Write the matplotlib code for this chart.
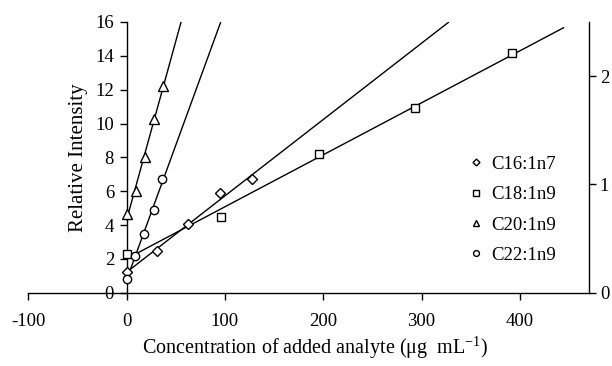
import numpy as np
import matplotlib
matplotlib.use("Agg")
import matplotlib.pyplot as plt

plt.rcParams['font.family'] = ['Liberation Serif', 'DejaVu Serif']
plt.rcParams['mathtext.fontset'] = 'custom'
plt.rcParams['mathtext.rm'] = 'Liberation Serif'

# Standard-addition data: added concentration (µg mL-1) vs relative intensity
c16_x = [0, 31.5, 62.5, 95.5, 127.5]
c16_y = [1.25, 2.45, 4.05, 5.88, 6.73]

c18_x = [0, 96.5, 195.5, 293.5, 391.5]
c18_y = [2.3, 4.5, 8.2, 10.9, 14.15]

c20_x = [0, 9.8, 19.0, 27.8, 36.8]
c20_y = [4.65, 6.0, 8.0, 10.28, 12.2]

c22_x = [0, 8.5, 17.7, 27.8, 35.9]
c22_y = [0.8, 2.15, 3.5, 4.88, 6.7]

series = [
    ("C16:1n7", c16_x, c16_y, "D", 5.0),
    ("C18:1n9", c18_x, c18_y, "s", 6.0),
    ("C20:1n9", c20_x, c20_y, "^", 7.0),
    ("C22:1n9", c22_x, c22_y, "o", 6.0),
]

x_ticks = [-100, 0, 100, 200, 300, 400]
y_ticks = [0, 2, 4, 6, 8, 10, 12, 14, 16]
y2_ticks = [0, 1, 2]

fig = plt.figure(figsize=(6.12, 3.66), dpi=100)
ax = fig.add_axes([0.046, 0.2, 0.916, 0.74])
ax.set_xlim(-100, 470)
ax.set_ylim(0, 16)

x_end = 445
for label, xs, ys, mk, ms in series:
    slope, icpt = np.polyfit(xs, ys, 1)
    xe = min(x_end, (16 - icpt) / slope)
    ax.plot([0, xe], [icpt, icpt + slope * xe], color='black', lw=1.0,
            solid_capstyle='butt', zorder=2)
    ax.plot(xs, ys, linestyle='none', marker=mk, markersize=ms,
            markerfacecolor='white', markeredgecolor='black',
            markeredgewidth=1.0, label=label, zorder=3)

ax.spines['left'].set_position(('data', 0))
ax.spines['top'].set_visible(False)
ax.spines['right'].set_visible(False)
for sp in ax.spines.values():
    sp.set_linewidth(1.0)

ax.set_xticks(x_ticks)
ax.set_xticklabels([str(t) for t in x_ticks])
ax.set_yticks(y_ticks)
ax.tick_params(axis='both', direction='out', length=5, width=1.0,
               labelsize=13.5)
ax.tick_params(axis='x', pad=9.5)
ax.tick_params(axis='y', pad=4)
ax.set_ylabel("Relative Intensity", fontsize=15)
ax.yaxis.set_label_coords(0.106, 0.5)

fig.text(0.514, 0.034,
         r"Concentration of added analyte ($\mathrm{\mu}$g  mL$^{\mathrm{-1}}$)",
         fontsize=14.5, ha='center', va='baseline')

ax2 = ax.twinx()
ax2.set_ylim(0, 2.5)
ax2.set_yticks(y2_ticks)
for name in ['top', 'left', 'bottom']:
    ax2.spines[name].set_visible(False)
ax2.spines['right'].set_linewidth(1.0)
ax2.tick_params(axis='y', direction='out', length=5, width=1.0,
                labelsize=13.5, pad=3)

leg = ax.legend(loc='upper left', bbox_to_anchor=(0.752, 0.569), frameon=False,
                fontsize=13.5, markerscale=0.7, handlelength=1.0,
                handletextpad=0.3, labelspacing=0.71)

fig.savefig("out.png", dpi=100)
